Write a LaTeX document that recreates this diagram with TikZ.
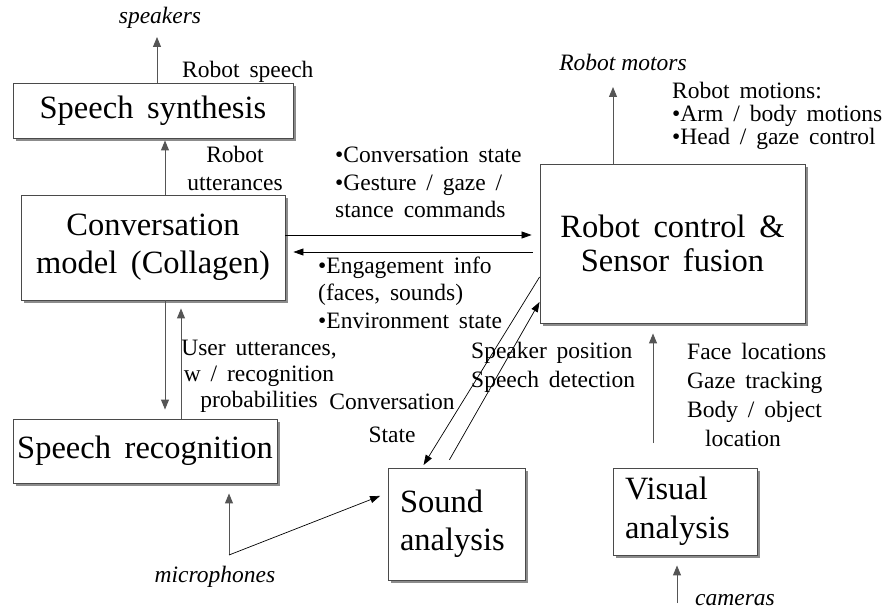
\documentclass[tikz,border=0pt]{standalone}
\usepackage{fontspec}
\setmainfont{Liberation Serif}
\usepackage{tikz}
\usetikzlibrary{arrows.meta,shadows,positioning}
\definecolor{BoxLine}{HTML}{4A4A4A}
\definecolor{BoxShade}{HTML}{8C8C8C}
\definecolor{FlowGray}{HTML}{555555}
\newcommand{\widesp}{\spaceskip=.42em plus .1em\relax}

\begin{document}
\begin{tikzpicture}[x=1pt, y=-1pt,
  block/.style={draw=BoxLine, fill=white, line width=0.9pt, inner sep=0pt,
                drop shadow={shadow xshift=3pt, shadow yshift=-3pt, fill=BoxShade, opacity=1},
                font=\fontsize{32.5}{38}\selectfont\widesp},
  note/.style={inner sep=0pt, font=\fontsize{23.5}{27.5}\selectfont\widesp},
  port/.style={inner sep=0pt, font=\fontsize{23.5}{27}\selectfont\itshape},
  feed/.style={draw=FlowGray, line width=1pt, -{Triangle[length=10pt,width=8pt]}},
  link/.style={draw=black, line width=0.7pt, -{Triangle[length=10pt,width=7pt]}}]
  \useasboundingbox (0,0) rectangle (883,612);

  % boxes
  \node[block, minimum width=280, minimum height=55] (synth) at (153,110.5) {Speech synthesis};
  \node[block, minimum width=264, minimum height=105, align=center] (conv) at (153,247.5)
       {Conversation\\model (Collagen)};
  \node[block, minimum width=264, minimum height=64] (recog) at (145,451) {Speech recognition};
  \node[block, minimum width=265, minimum height=159, align=center,
        font=\fontsize{32.5}{34}\selectfont\widesp] (robot) at (672.5,243.5)
       {Robot control \&\\Sensor fusion};
  \node[block, text width=113, inner xsep=12, minimum height=112, align=left,
        font=\fontsize{32.5}{38}\selectfont] (sound) at (456.5,524) {Sound\\analysis};
  \node[block, text width=120, inner xsep=12, minimum height=87, align=left,
        font=\fontsize{32.5}{39}\selectfont] (visual) at (685,511.5) {Visual\\analysis};

  % outside ends
  \node[port] (speakers) at (160,18) {speakers};
  \node[port] (motors) at (623,62) {Robot motors};
  \node[port] (micro) at (215,577) {microphones};
  \node[port] (cameras) at (735,600) {cameras};
  \coordinate (spk) at (157,37);
  \coordinate (mot) at (613,87);
  \coordinate (mic) at (229,555);
  \coordinate (cam) at (677,603);
  \coordinate (vis) at (653,443);

  % labels
  \node[note, anchor=west] (speech) at (182,72) {Robot speech};
  \node[note, align=center] (utter) at (235,168.5) {Robot\\utterances};
  \node[note, align=left, anchor=west] (cmds) at (335,182.5)
       {•Conversation state\\•Gesture / gaze /\\stance commands};
  \node[note, align=left, anchor=west] (engage) at (318,292.5)
       {•Engagement info\\(faces, sounds)\\•Environment state};
  \node[note, align=left, anchor=west, font=\fontsize{23.5}{23}\selectfont\widesp] (motions) at (672,115.5)
       {Robot motions:\\•Arm / body motions\\•Head / gaze control};
  \node[note, align=center, font=\fontsize{23.5}{26}\selectfont\widesp] (userutt) at (259,376)
       {User utterances,\\w / recognition\\probabilities};
  \node[note, align=center, font=\fontsize{23.5}{33}\selectfont\widesp] (cstate) at (392,418.5)
       {Conversation\\State};
  \node[note, align=left, anchor=west, font=\fontsize{23.5}{29}\selectfont\widesp] (speaker) at (471,367.5)
       {Speaker position\\Speech detection};
  \node[note, align=left, anchor=west, font=\fontsize{23.5}{29}\selectfont\widesp] (faces) at (687,395)
       {Face locations\\Gaze tracking\\Body / object\\\hspace*{18pt}location};

  % connectors
  \draw[feed] ([xshift=4pt]synth.north) -- (spk);
  \draw[feed, shorten >=2pt] ([xshift=12pt]conv.north) -- ([xshift=12pt]conv.north |- synth.south);
  \draw[link, shorten >=8pt] ([yshift=12.5pt]conv.east) -- ([yshift=12.5pt]conv.east -| robot.west);
  \draw[link, shorten <=7pt, shorten >=8pt] ([yshift=-8.5pt]robot.west) -- ([yshift=-8.5pt]robot.west -| conv.east);
  \draw[feed, shorten >=9pt] ([xshift=12pt]conv.south) -- ([xshift=12pt]conv.south |- recog.north);
  \draw[feed, shorten >=8pt] ([xshift=36pt]recog.north) -- ([xshift=36pt]recog.north |- conv.south);
  \draw[feed] ([xshift=-59.5pt]robot.north) -- (mot);
  \draw[link, shorten >=3pt] ([yshift=-33.5pt]robot.west) -- ([xshift=-34.5pt]sound.north);
  \draw[link, shorten <=9pt] ([xshift=-11.5pt]sound.north) -- ([yshift=-58.5pt]robot.west);
  \draw[feed, shorten >=10pt] (vis) -- (vis |- robot.south);
  \draw[feed, shorten >=10pt] (cam) -- (cam |- visual.south);
  \draw[feed, shorten >=10pt] (mic) -- (mic |- recog.south);
  \draw[link, shorten >=8pt] (mic) -- ([yshift=31pt]sound.west);
\end{tikzpicture}
\end{document}
